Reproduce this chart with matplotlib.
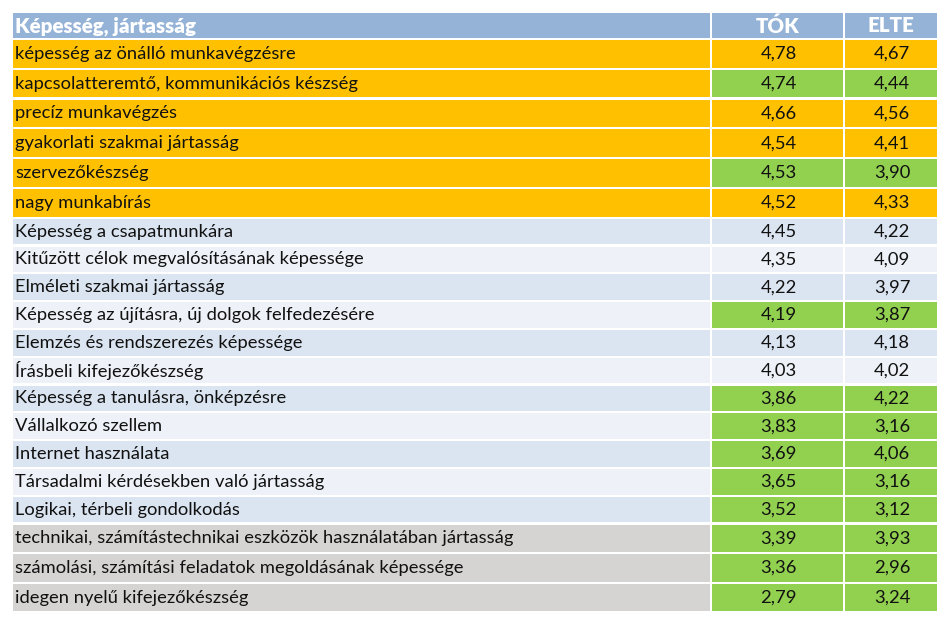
import matplotlib.pyplot as plt
from matplotlib.patches import Rectangle

header = ['Képesség, jártasság', 'TÓK', 'ELTE']

skills = [
    'képesség az önálló munkavégzésre',
    'kapcsolatteremtő, kommunikációs készség',
    'precíz munkavégzés',
    'gyakorlati szakmai jártasság',
    'szervezőkészség',
    'nagy munkabírás',
    'Képesség a csapatmunkára',
    'Kitűzött célok megvalósításának képessége',
    'Elméleti szakmai jártasság',
    'Képesség az újításra, új dolgok felfedezésére',
    'Elemzés és rendszerezés képessége',
    'Írásbeli kifejezőkészség',
    'Képesség a tanulásra, önképzésre',
    'Vállalkozó szellem',
    'Internet használata',
    'Társadalmi kérdésekben való jártasság',
    'Logikai, térbeli gondolkodás',
    'technikai, számítástechnikai eszközök használatában jártasság',
    'számolási, számítási feladatok megoldásának képessége',
    'idegen nyelű kifejezőkészség',
]
tok = [4.78, 4.74, 4.66, 4.54, 4.53, 4.52, 4.45, 4.35, 4.22, 4.19,
       4.13, 4.03, 3.86, 3.83, 3.69, 3.65, 3.52, 3.39, 3.36, 2.79]
elte = [4.67, 4.44, 4.56, 4.41, 3.90, 4.33, 4.22, 4.09, 3.97, 3.87,
        4.18, 4.02, 4.22, 3.16, 4.06, 3.16, 3.12, 3.93, 2.96, 3.24]

# row group: o = top group, b = middle group (banded), g = bottom group
groups = ['o'] * 6 + ['b'] * 11 + ['g'] * 3
# value cells highlighted in green
highlight = [False, True, False, False, True, False, False, False, False, True,
             False, False, True, True, True, True, True, True, True, True]

ORANGE = '#FFC000'
GREEN = '#92D050'
BLUE_DARK = '#DBE5F1'
BLUE_LIGHT = '#EEF2F8'
GRAY = '#D6D3D3'
HEAD = '#95B3D7'


def main():
    fig = plt.figure(figsize=(9.5, 6.26), dpi=100)
    ax = fig.add_axes([0, 0, 1, 1])
    ax.set_xlim(0, 950)
    ax.set_ylim(626, 0)
    ax.axis('off')

    cols = [(13, 710), (712, 843), (845, 937)]
    font = dict(family=['Lato', 'DejaVu Sans'], fontsize=13.2)
    hfont = dict(family=['Lato', 'DejaVu Sans'], fontsize=14.8,
                 fontweight='heavy', color='white')

    # header
    for (x0, x1), label in zip(cols, header):
        ax.add_patch(Rectangle((x0, 13), x1 - x0, 24.5, color=HEAD, lw=0))
    ax.text(15, 26, header[0], va='center', ha='left', **hfont)
    for (x0, x1), label in zip(cols[1:], header[1:]):
        ax.text((x0 + x1) / 2, 26, label, va='center', ha='center', **hfont)

    heights = {'o': 29.8, 'b': 27.8, 'g': 29.6}
    y = 40.0
    band = 0
    for i, name in enumerate(skills):
        g = groups[i]
        h = heights[g]
        if g == 'o':
            base = ORANGE
        elif g == 'g':
            base = GRAY
        else:
            base = BLUE_DARK if band % 2 == 0 else BLUE_LIGHT
            band += 1
        vcol = GREEN if highlight[i] else base
        fills = [base, vcol, vcol]
        for (x0, x1), fc in zip(cols, fills):
            ax.add_patch(Rectangle((x0, y), x1 - x0, h - 2.2, color=fc, lw=0))
        yc = y + (h - 2.2) / 2
        ax.text(15, yc, name, color='#111111', va='center', ha='left', **font)
        for (x0, x1), v in zip(cols[1:], (tok[i], elte[i])):
            ax.text((x0 + x1) / 2 + 1, yc, f'{v:.2f}'.replace('.', ','),
                    color='#111111', va='center', ha='center', **font)
        y += h

    fig.savefig('out.png', dpi=100)


if __name__ == '__main__':
    main()
